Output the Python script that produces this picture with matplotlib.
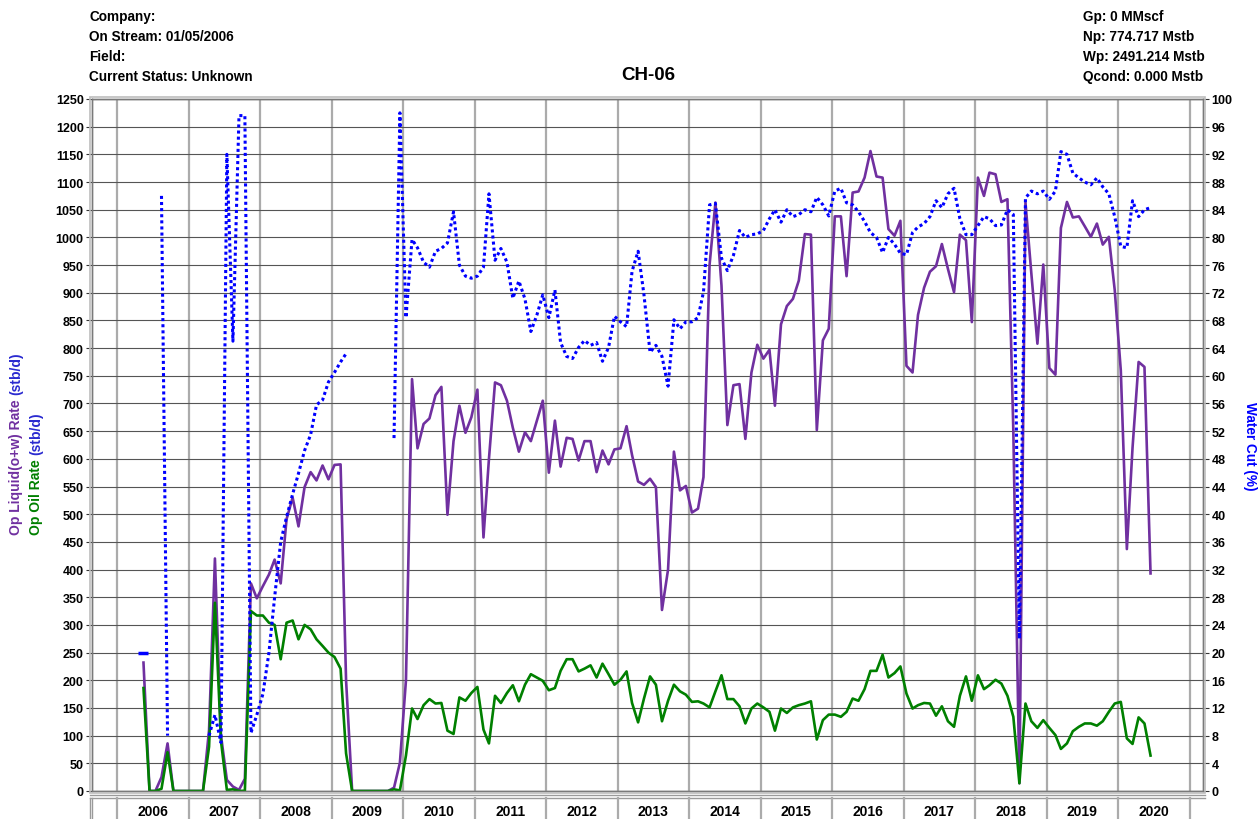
import numpy as np
import pandas as pd
import matplotlib
matplotlib.use("Agg")
import matplotlib.pyplot as plt
import matplotlib.dates as mdates
from matplotlib.lines import Line2D
import matplotlib.transforms as mtransforms

plt.rcParams['font.family'] = ['Liberation Sans', 'DejaVu Sans']
plt.rcParams['font.weight'] = 'bold'

# ---------------- data (monthly, starting May 2006) ----------------
first_month = '2006-05'

liquid = [
    232, 0, 0, 25, 86, 0, 0, 0,                                        # 2006 May-Dec
    0, 0, 0, 110, 420, 100, 20, 8, 2, 22, 375, 348,                     # 2007
    370, 391, 418, 375, 491, 530, 478, 549, 576, 561, 588, 563,         # 2008
    589, 590, 200, 0, 0, 0, 0, 0, 0, 0, 6, 51,                          # 2009
    200, 744, 619, 663, 673, 715, 730, 499, 632, 696, 647, 675,         # 2010
    725, 458, 600, 738, 733, 705, 656, 613, 648, 632, 669, 705,         # 2011
    575, 669, 586, 638, 636, 597, 632, 632, 576, 615, 590, 617,         # 2012
    619, 659, 607, 559, 553, 564, 549, 327, 400, 613, 543, 551,         # 2013
    503, 510, 567, 950, 1063, 913, 661, 733, 735, 636, 756, 806,        # 2014
    781, 797, 696, 843, 876, 889, 922, 1006, 1005, 652, 814, 835,       # 2015
    1038, 1038, 930, 1081, 1083, 1108, 1156, 1110, 1108, 1015, 1003, 1030,  # 2016
    768, 756, 860, 909, 938, 948, 988, 943, 901, 1005, 995, 847,        # 2017
    1108, 1075, 1117, 1114, 1064, 1069, 650, 14, 1063, 935, 808, 951,   # 2018
    764, 752, 1017, 1064, 1036, 1038, 1020, 1001, 1025, 987, 1001, 905, # 2019
    760, 437, 620, 775, 766, 393,                                        # 2020 Jan-Jun
]

oil = [
    186, 0, 0, 4, 70, 0, 0, 0,
    0, 0, 0, 80, 340, 90, 2, 3, 0.05, 0.5, 325, 317,
    317, 304, 300, 238, 304, 308, 274, 300, 292, 274, 262, 250,
    242, 221, 68, 0, 0, 0, 0, 0, 0, 0, 3, 1,
    64, 149, 130, 155, 166, 158, 159, 109, 103, 169, 163, 177,
    188, 111, 86, 172, 159, 177, 191, 162, 192, 211, 205, 199,
    182, 186, 217, 238, 238, 216, 221, 227, 205, 230, 211, 192,
    201, 216, 159, 124, 167, 207, 192, 126, 163, 192, 180, 174,
    161, 162, 158, 151, 180, 209, 166, 166, 153, 122, 149, 158,
    151, 143, 109, 149, 141, 151, 155, 158, 162, 93, 128, 138,
    138, 134, 143, 167, 163, 184, 217, 217, 246, 205, 213, 225,
    176, 149, 155, 159, 158, 136, 153, 126, 116, 172, 207, 163,
    209, 184, 191, 201, 194, 172, 134, 14, 158, 126, 114, 128,
    114, 101, 76, 86, 108, 116, 122, 122, 118, 126, 143, 158,
    161, 95, 85, 133, 122, 64,
]

nan = np.nan
water_cut = [
    20, nan, nan, 86, 8, nan, nan, nan,
    nan, nan, nan, 8, 11, 7, 92, 65, 97.6, 97.6, 8.4, 11,
    14, 20, 28, 36, 39.6, 42.9, 45.9, 49.2, 51.5, 55.8, 56.5, 59.1,
    60.5, 62, 63.2, nan, nan, nan, nan, nan, nan, nan, 51, 98,
    68.4, 79.7, 78.5, 76.4, 75.7, 78.0, 78.4, 79.2, 83.7, 76.0, 74.4, 74.1,
    74.4, 75.7, 86.3, 76.7, 78.4, 76.4, 71.2, 73.7, 71.1, 66.4, 68.8, 71.7,
    68.4, 72.4, 64.8, 62.8, 62.5, 64.1, 65.1, 64.4, 64.8, 62.1, 64.1, 68.6,
    67.8, 67.1, 75.1, 78.0, 71.7, 63.4, 64.4, 62.8, 58.5, 68.1, 66.8, 67.8,
    67.8, 68.4, 72.1, 84.7, 84.9, 77.0, 75.2, 77.4, 81.0, 80.0, 80.4, 80.5,
    81.0, 82.7, 84.0, 82.2, 84.0, 83.0, 83.3, 84.0, 83.7, 85.8, 84.7, 83.1,
    86.7, 87.1, 85.0, 84.7, 83.7, 82.3, 80.7, 80.0, 77.8, 80.0, 79.0, 77.7,
    77.5, 80.7, 81.5, 82.0, 83.0, 85.3, 84.3, 86.3, 87.1, 82.7, 80.4, 80.4,
    81.7, 83.0, 82.7, 81.7, 81.8, 84.0, 83.3, 22.0, 85.7, 86.7, 86.3, 86.7,
    85.5, 86.7, 92.4, 92.0, 89.3, 88.6, 88.0, 87.6, 88.6, 87.3, 86.3, 83.0,
    78.7, 78.5, 85.3, 83.0, 84.0, 84.3,
]

years = list(range(2006, 2021))
liquid_ticks = list(range(0, 1251, 50))
wc_ticks = list(range(0, 101, 4))

header_left = ["Company:", "On Stream: 01/05/2006", "Field:", "Current Status: Unknown"]
header_right = ["Gp: 0 MMscf", "Np: 774.717 Mstb", "Wp: 2491.214 Mstb", "Qcond: 0.000 Mstb"]
title = "CH-06"

# ---------------- styling ----------------
W, H = 1260, 820
PURPLE = '#7030A0'
GREEN = '#008000'
BLUE = '#0000FF'

dates = pd.date_range(first_month + '-01', periods=len(liquid), freq='MS') + pd.Timedelta(days=14)
xnum = mdates.date2num(dates.to_pydatetime())

def dnum(s):
    return mdates.date2num(pd.Timestamp(s).to_pydatetime())

fig = plt.figure(figsize=(W / 100, H / 100), dpi=100)
L, R, T, B = 92, 1203, 100, 792
ax = fig.add_axes([L / W, (H - B) / H, (R - L) / W, (B - T) / H])

ax.plot(xnum, liquid, color=PURPLE, lw=1.9, zorder=3)
ax.plot(xnum, oil, color=GREEN, lw=1.9, zorder=3)
ax.set_ylim(0, 1250)
ax.set_xlim(dnum('2005-08-25'), dnum('2021-03-10'))
ax.set_yticks(liquid_ticks)
ax.set_xticks([dnum(f'{y}-01-01') for y in years + [2021]])
ax.set_xticklabels([])
ax.tick_params(axis='x', length=0)
ax.tick_params(axis='y', direction='out', length=4, width=0.8, color='#333333',
               labelsize=9, pad=2)
ax.set_axisbelow(True)
ax.yaxis.grid(True, color='#555555', lw=0.8)
ax.xaxis.grid(True, color='#ababab', lw=1.6)

ax2 = ax.twinx()
wc = np.array(water_cut, dtype=float)
iso = [i for i in range(len(wc)) if not np.isnan(wc[i])
       and (i == 0 or np.isnan(wc[i - 1])) and (i == len(wc) - 1 or np.isnan(wc[i + 1]))]
ax2.plot(xnum, wc, color=BLUE, lw=2.2, linestyle=(0, (1, 1)), marker='_',
         markevery=iso, markersize=7, markeredgewidth=2.5, zorder=4)
ax2.set_ylim(0, 100)
ax2.set_yticks(wc_ticks)
ax2.tick_params(axis='y', direction='out', length=4, width=0.8, color='#333333',
                labelsize=9, pad=2)
ax2.set_xlim(ax.get_xlim())

for a in (ax, ax2):
    for s in a.spines.values():
        s.set_color('#7a7a7a')
        s.set_linewidth(1.0)

# outer frame line (double border look)
fig.add_artist(plt.Rectangle(((L - 2) / W, (H - B - 2) / H), (R - L + 4) / W, (B - T + 4) / H,
                             transform=fig.transFigure, fill=False, ec='#bdbdbd', lw=1.2))

# bottom date strip
blend = mtransforms.blended_transform_factory(ax.transData, fig.transFigure)
for yy in (796, 799):
    fig.add_artist(Line2D([(L - 2) / W, (R + 2) / W], [(H - yy) / H] * 2,
                          transform=fig.transFigure, color='#9a9a9a', lw=1.0))
for y in years + [2021]:
    xv = dnum(f'{y}-01-01')
    fig.add_artist(Line2D([xv, xv], [(H - 799) / H, 0], transform=blend,
                          color='#ababab', lw=1.6))
for xx in (L - 2, L):
    fig.add_artist(Line2D([xx / W] * 2, [(H - 799) / H, 0], transform=fig.transFigure,
                          color='#9a9a9a', lw=1.0))
for y in years:
    fig.text(dnum(f'{y}-07-02'), (H - 812) / H, str(y), transform=blend,
             ha='center', va='center', fontsize=10, fontweight='bold')

# headers
for i, s in enumerate(header_left):
    fig.text(89 / W, 1 - (17 + 20 * i) / H, s, ha='left', va='center', fontsize=9.8)
for i, s in enumerate(header_right):
    fig.text(1083 / W, 1 - (17 + 20 * i) / H, s, ha='left', va='center', fontsize=9.8)
fig.text(648 / W, 1 - 75 / H, title, ha='center', va='center', fontsize=13.5)

# multicolour y labels
renderer = fig.canvas.get_renderer()

def rotated_label(xpx, ybottom, parts, size=10):
    y = ybottom
    for s, c in parts:
        t = fig.text(xpx / W, 1 - y / H, s, color=c, rotation=90, ha='center', va='bottom',
                     fontsize=size, fontweight='bold')
        bb = t.get_window_extent(renderer)
        y -= bb.height + 4

rotated_label(16, 535, [("Op Liquid(o+w) Rate", PURPLE), ("(stb/d)", '#2a2ad0')])
rotated_label(36, 535, [("Op Oil Rate", GREEN), ("(stb/d)", '#2a2ad0')])
fig.text(1250 / W, 1 - 446 / H, "Water Cut (%)", color=BLUE, rotation=270,
         ha='center', va='center', fontsize=9.8, fontweight='bold')

fig.savefig('out.png', dpi=100)
